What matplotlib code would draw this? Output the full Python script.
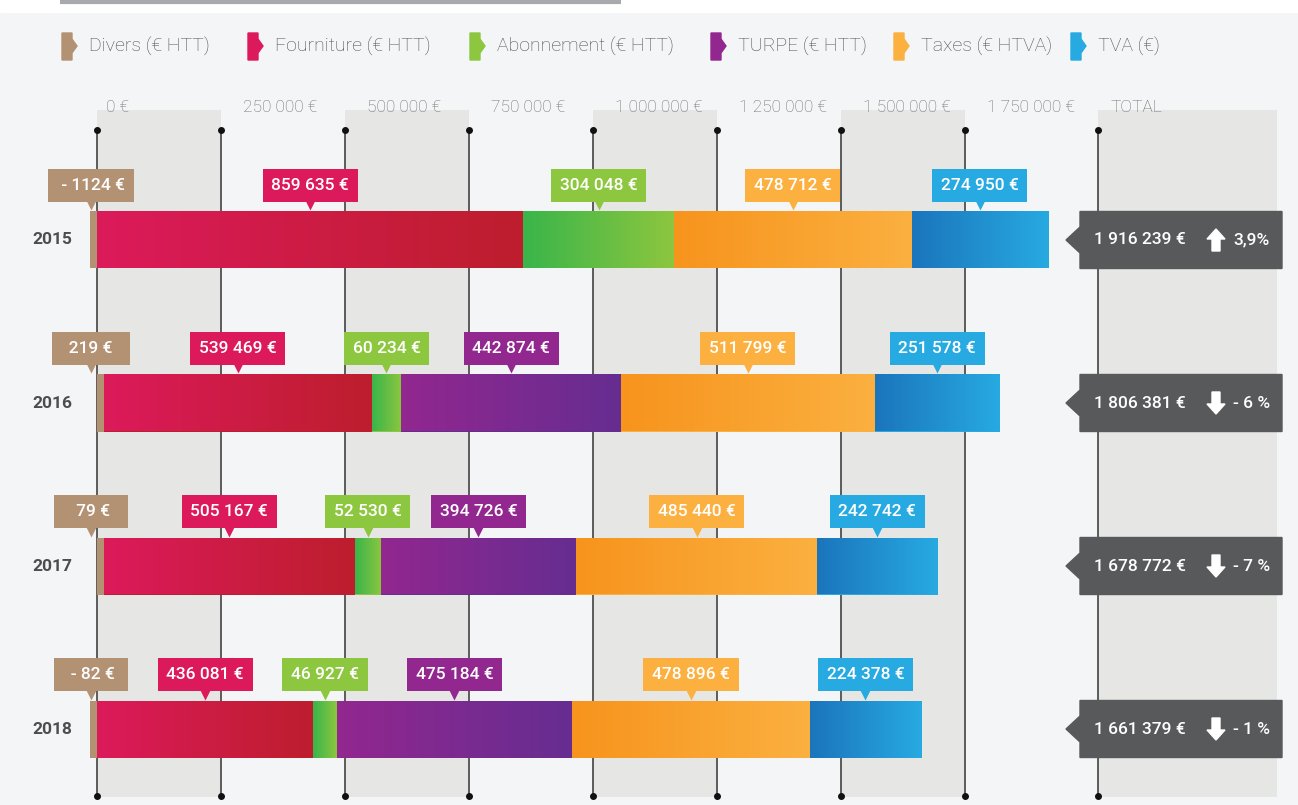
import numpy as np
import matplotlib
matplotlib.use("Agg")
import matplotlib.pyplot as plt
from matplotlib.colors import LinearSegmentedColormap
from matplotlib.patches import Polygon, Rectangle

plt.rcParams['font.family'] = ['Roboto', 'DejaVu Sans']

annees = ['2015', '2016', '2017', '2018']
divers = [-1124, 219, 79, -82]
fourniture = [859635, 539469, 505167, 436081]
abonnement = [304048, 60234, 52530, 46927]
turpe = [0, 442874, 394726, 475184]
taxes = [478712, 511799, 485440, 478896]
tva = [274950, 251578, 242742, 224378]
totaux = [1916239, 1806381, 1678772, 1661379]
evolution = ['3,9%', '- 6 %', '- 7 %', '- 1 %']
hausse = [True, False, False, False]
graduations = [0, 250000, 500000, 750000, 1000000, 1250000, 1500000, 1750000]

legende = ['Divers (€ HTT)', 'Fourniture (€ HTT)', 'Abonnement (€ HTT)',
           'TURPE (€ HTT)', 'Taxes (€ HTVA)', 'TVA (€)']
# couleur d'étiquette, début et fin du dégradé
couleurs = {
    'div': ('#b39273', '#b39273', '#b8997a'),
    'fou': ('#dc1a5b', '#dc1a5b', '#bd1e2d'),
    'abo': ('#8dc63f', '#39b54a', '#8dc63f'),
    'tur': ('#92278f', '#92278f', '#662d91'),
    'tax': ('#fbb040', '#f7941d', '#fbb040'),
    'tva': ('#27aae1', '#1b75bc', '#27aae1'),
}

# échelle : 124 px pour 250 000 €, zéro à x=97 px ; années espacées de 163 px
k = 124 / 250000
W, H = 1298, 805
def X(px):
    return (px - 97) / k
def Y(px):
    return (px - 240) / 163
def dy(px):
    return px / 163

fig = plt.figure(figsize=(W / 100, H / 100), dpi=100, facecolor='#f4f5f7')
ax = fig.add_axes([0, 0, 1, 1])
ax.axis('off')
ax.set_facecolor('#f4f5f7')

# bandeau blanc en haut
ax.add_patch(Rectangle((X(0), Y(0)), X(W) - X(0), dy(12), color='white', zorder=0))
ax.plot([X(60), X(621)], [Y(2), Y(2)], color='#a7a9ac', lw=3, zorder=1, solid_capstyle='butt')

# légende
lx_icone = [62, 248, 470, 711, 894, 1071]
for (cle, (c, _, _)), nom, x0 in zip(couleurs.items(), legende, lx_icone):
    pts = [(x0, 33), (x0 + 10, 33), (x0 + 10, 39), (x0 + 15, 46), (x0 + 10, 53),
           (x0 + 10, 60), (x0, 60)]
    ax.add_patch(Polygon([(X(a), Y(b)) for a, b in pts], closed=True, color=c, zorder=3))
    ax.text(X(x0 + 27), Y(47), nom, fontsize=14, color='#4d4d4f', fontweight='light',
            ha='left', va='center')

# bandes grises + lignes verticales
x_total = X(1098)
for g in graduations[::2]:
    ax.add_patch(Rectangle((g, Y(110)), 250000, dy(687), color='#e6e7e5', lw=0, zorder=0))
ax.add_patch(Rectangle((x_total, Y(110)), X(1277) - x_total, dy(687), color='#e6e7e5', lw=0, zorder=0))
for g in graduations + [x_total]:
    ax.plot([g, g], [Y(130), Y(796)], color='#333333', lw=1.1, zorder=1)
    ax.plot([g, g], [Y(130), Y(796)], 'o', color='#111111', ms=4, zorder=1)
for g in graduations:
    txt = '0 €' if g == 0 else f'{g:,} €'.replace(',', ' ')
    ax.text(g + X(97 + (9 if g == 0 else 22)), Y(108), txt, fontsize=12.5, color='#6d6e71',
            fontweight='light', ha='left', va='center', zorder=2)
ax.text(x_total + X(97 + 13), Y(108), 'TOTAL', fontsize=12.5, color='#6d6e71',
        fontweight='light', ha='left', va='center', zorder=2)

h = dy(57)
def fmt(v):
    s = f'{abs(v):,}'.replace(',', ' ') + ' €'
    return '- ' + s if v < 0 else s

def etiquette(x, y, txt, c):
    haut = y - h / 2
    ax.text(x, haut - dy(26), txt, fontsize=12.5, fontweight='medium', color='white',
            ha='center', va='center', zorder=5,
            bbox=dict(boxstyle='square,pad=0.5', fc=c, ec='none'))
    ax.plot([x], [haut - dy(7)], 'v', color=c, ms=9, mec='none', zorder=5)

yy = np.arange(len(annees))
series = [('fou', fourniture), ('abo', abonnement), ('tur', turpe), ('tax', taxes), ('tva', tva)]
for i, y in enumerate(yy):
    # divers : largeur minimale visible (~7 px)
    d = np.sign(divers[i]) * 14000
    c, c0, c1 = couleurs['div']
    ax.barh(y, d, height=h, left=0, color=c, zorder=3)
    t = (f'- {abs(divers[i])} €' if divers[i] < 0 else f'{divers[i]} €').center(9)
    etiquette(X(91), y, t, c)
    gauche = max(d, 0)
    for cle, vals in series:
        v = vals[i]
        if v == 0:
            continue
        c, c0, c1 = couleurs[cle]
        barre = ax.barh(y, v, height=h, left=gauche, color=c1, zorder=3)[0]
        cmap = LinearSegmentedColormap.from_list(cle, [c0, c1])
        im = ax.imshow(np.linspace(0, 1, 256).reshape(1, -1), cmap=cmap, aspect='auto',
                       extent=(gauche, gauche + v, y + h / 2, y - h / 2), zorder=3.5,
                       interpolation='bilinear')
        im.set_clip_path(barre)
        etiquette(gauche + v / 2, y, fmt(v), c)
        gauche += v
    ax.text(X(52), y, annees[i], fontsize=12.5, fontweight='bold', color='#4d4d4f',
            ha='center', va='center')

    # boîte du total
    pts = [(1080, -28.5), (1282, -28.5), (1282, 28.5), (1080, 28.5), (1080, 13), (1066, 0), (1080, -13)]
    ax.add_patch(Polygon([(X(a), y + dy(b)) for a, b in pts], closed=True, color='#58595b', zorder=4))
    ax.text(X(1094), y, fmt(totaux[i]), fontsize=12.5, fontweight='medium', color='white',
            ha='left', va='center', zorder=5)
    s = 1 if hausse[i] else -1
    fl = [(0, -11), (9, -1), (4, -1), (4, 11), (-4, 11), (-4, -1), (-9, -1)]
    ax.add_patch(Polygon([(X(1216 + a), y + dy(s * b)) for a, b in fl], closed=True,
                         color='white', zorder=5))
    ax.text(X(1270), y, evolution[i], fontsize=12.5, fontweight='medium', color='white',
            ha='right', va='center', zorder=5)

ax.set_xlim(X(0), X(W))
ax.set_ylim(Y(H), Y(0))
fig.savefig('out.png', dpi=100, facecolor=fig.get_facecolor())
